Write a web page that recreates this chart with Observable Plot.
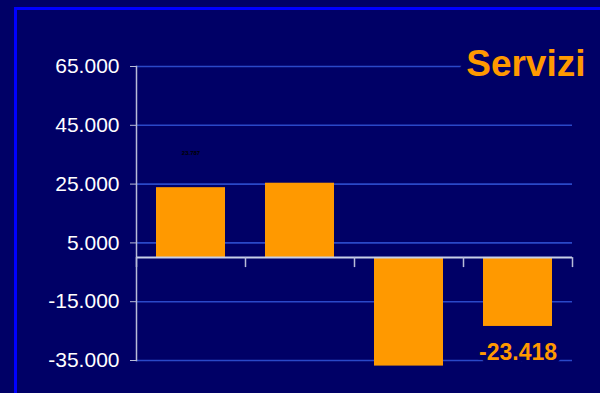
<!DOCTYPE html>
<html>
<head>
<meta charset="utf-8">
<script src="https://cdn.jsdelivr.net/npm/d3@7"></script>
<script src="https://cdn.jsdelivr.net/npm/@observablehq/plot@0.6"></script>
<style>
  html, body { margin: 0; padding: 0; background: #000066; }
  #wrap { position: relative; width: 600px; height: 393px; overflow: hidden; background: #000066; }
  #border { position: absolute; left: 14px; top: 7px; right: -10px; bottom: -10px;
            border-left: 3px solid #0000ff; border-top: 3px solid #0000ff; pointer-events: none; }
  #chart { position: absolute; left: 0; top: 0; }
</style>
</head>
<body>
<div id="wrap"><div id="chart"></div><div id="border"></div></div>
<script>
const categories = ["1", "2", "3", "4"];
const values = [23787, 25300, -36900, -23418];
const yTicks = [65000, 45000, 25000, 5000, -15000, -35000];
const title = "Servizi";
const smallLabelIndex = [0];
const bigLabelIndex = [3];

const it = d3.formatLocale({decimal: ",", thousands: ".", grouping: [3], currency: ["€", ""], minus: "-"});
const fmt = it.format(",");

const data = categories.map((c, i) => ({cat: c, value: values[i], label: fmt(values[i])}));

const W = 600, H = 393, ML = 136, MR = 28, MT = 66, MB = 33;
const step = (W - ML - MR) / categories.length;

const chart = Plot.plot({
  width: W, height: H,
  marginLeft: ML, marginRight: MR, marginTop: MT, marginBottom: MB,
  style: {background: "#000066", fontFamily: "'Liberation Sans', Arial, sans-serif", overflow: "visible"},
  x: {domain: categories, paddingInner: 0.367, paddingOuter: 0.1835, axis: null},
  y: {domain: [-35000, 65000], axis: null},
  marks: [
    Plot.gridY(yTicks, {stroke: "#2a48c8", strokeOpacity: 1, strokeWidth: 1.6}),
    Plot.axisY(yTicks, {tickFormat: fmt, tickSize: 6, tickPadding: 11, fontSize: 21,
      fill: "white", stroke: "#b8bcd8", label: null}),
    Plot.frame({anchor: "left", stroke: "#b8bcd8", strokeWidth: 1.5}),
    Plot.barY(data, {x: "cat", y: "value", fill: "#ff9900"}),
    Plot.ruleY([0], {stroke: "#c8d0e8", strokeWidth: 2}),
    Plot.ruleX(categories, {x: d => d, dx: -step / 2, y1: 0, y2: -3400, stroke: "#b8bcd8", strokeWidth: 1.5}),
    Plot.ruleX(categories.slice(-1), {x: d => d, dx: step / 2, y1: 0, y2: -3400, stroke: "#b8bcd8", strokeWidth: 1.5}),
    Plot.text(smallLabelIndex.map(i => data[i]), {x: "cat", y: "value", text: "label",
      dy: -35, fontSize: 6, fontWeight: "bold", fill: "black"}),
    Plot.text(bigLabelIndex.map(i => data[i]), {x: "cat", y: "value", text: "label",
      lineAnchor: "top", dy: 17, fontSize: 23, fontWeight: "bold", fill: "#ff9900",
      stroke: "#000066", strokeWidth: 9}),
    Plot.text([title], {frameAnchor: "top-right", textAnchor: "end", lineAnchor: "bottom",
      dx: 13, dy: 9, fontSize: 37, fontWeight: "bold", fill: "#ff9900",
      stroke: "#000066", strokeWidth: 14})
  ]
});
document.getElementById("chart").appendChild(chart);
</script>
</body>
</html>
